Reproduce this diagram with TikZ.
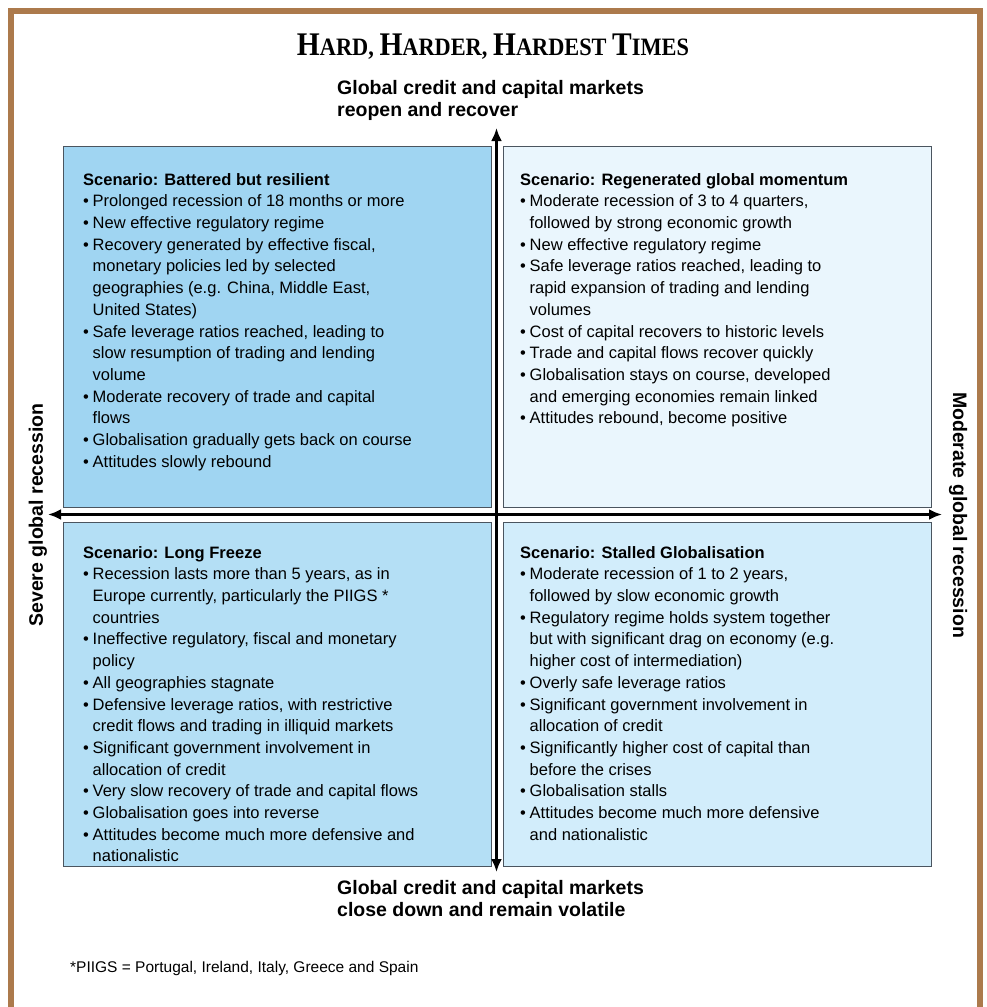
\documentclass[tikz,border=0pt]{standalone}
\usepackage{fontspec}
\usepackage{graphicx}
\setmainfont{Liberation Sans}
\newfontfamily\titlefont{Liberation Serif}
\usetikzlibrary{arrows.meta}
\definecolor{framec}{RGB}{172,122,76}
\definecolor{cTL}{RGB}{160,213,242}
\definecolor{cTR}{RGB}{234,246,253}
\definecolor{cBL}{RGB}{180,223,245}
\definecolor{cBR}{RGB}{210,237,251}
\definecolor{edgec}{RGB}{75,85,95}
\newcommand{\bl}{\makebox[9.5pt][l]{•}}
\newcommand{\ind}{\hspace*{9.5pt}}
\newcommand{\Tb}[1]{{\fontsize{33}{33}\selectfont #1}}
\tikzset{
  quad/.style={draw=edgec, line width=1.3pt, anchor=north west, inner sep=0pt},
  txt/.style={anchor=north west, inner sep=0pt, align=left, font=\fontsize{16.5}{21.7}\selectfont},
  lab/.style={inner sep=0pt, align=left, font=\bfseries\fontsize{19.5}{22}\selectfont},
  axis/.style={line width=3.2pt, {Latex[length=13pt,width=11pt]}-{Latex[length=13pt,width=11pt]}}
}
\begin{document}
\begin{tikzpicture}[x=1pt,y=-1pt]
\useasboundingbox (0,0) rectangle (987,1007);
\fill[white] (0,0) rectangle (987,1007);
\draw[framec, line width=6pt] (11,1012) -- (11,11) -- (980,11) -- (980,1012);

\node (title) at (493,47) {\resizebox{392pt}{\height}{\titlefont\bfseries\fontsize{25}{25}\selectfont\Tb{H}ARD, \Tb{H}ARDER, \Tb{H}ARDEST \Tb{T}IMES}};

\node[lab, anchor=north west] (toplab) at (337,80) {Global credit and capital markets\\reopen and recover};
\node[lab, anchor=north west] (botlab) at (337,880) {Global credit and capital markets\\close down and remain volatile};
\node[lab, rotate=90] (leftlab) at (38,515) {Severe global recession};
\node[lab, rotate=-90] (rightlab) at (958,515) {Moderate global recession};

\node[quad, fill=cTL, minimum width=428pt, minimum height=361pt] (tl) at (63,146) {};
\node[quad, fill=cTR, minimum width=428pt, minimum height=361pt] (tr) at (503,146) {};
\node[quad, fill=cBL, minimum width=428pt, minimum height=344pt] (bl) at (63,522) {};
\node[quad, fill=cBR, minimum width=428pt, minimum height=344pt] (br) at (503,522) {};

\node[txt] (tltext) at (83,173) {\textbf{Scenario: Battered but resilient}\\
\bl Prolonged recession of 18 months or more\\
\bl New effective regulatory regime\\
\bl Recovery generated by effective fiscal,\\
\ind monetary policies led by selected\\
\ind geographies (e.g. China, Middle East,\\
\ind United States)\\
\bl Safe leverage ratios reached, leading to\\
\ind slow resumption of trading and lending\\
\ind volume\\
\bl Moderate recovery of trade and capital\\
\ind flows\\
\bl Globalisation gradually gets back on course\\
\bl Attitudes slowly rebound};

\node[txt] (trtext) at (520,173) {\textbf{Scenario: Regenerated global momentum}\\
\bl Moderate recession of 3 to 4 quarters,\\
\ind followed by strong economic growth\\
\bl New effective regulatory regime\\
\bl Safe leverage ratios reached, leading to\\
\ind rapid expansion of trading and lending\\
\ind volumes\\
\bl Cost of capital recovers to historic levels\\
\bl Trade and capital flows recover quickly\\
\bl Globalisation stays on course, developed\\
\ind and emerging economies remain linked\\
\bl Attitudes rebound, become positive};

\node[txt] (bltext) at (83,546) {\textbf{Scenario: Long Freeze}\\
\bl Recession lasts more than 5 years, as in\\
\ind Europe currently, particularly the PIIGS *\\
\ind countries\\
\bl Ineffective regulatory, fiscal and monetary\\
\ind policy\\
\bl All geographies stagnate\\
\bl Defensive leverage ratios, with restrictive\\
\ind credit flows and trading in illiquid markets\\
\bl Significant government involvement in\\
\ind allocation of credit\\
\bl Very slow recovery of trade and capital flows\\
\bl Globalisation goes into reverse\\
\bl Attitudes become much more defensive and\\
\ind nationalistic};

\node[txt] (brtext) at (520,546) {\textbf{Scenario: Stalled Globalisation}\\
\bl Moderate recession of 1 to 2 years,\\
\ind followed by slow economic growth\\
\bl Regulatory regime holds system together\\
\ind but with significant drag on economy (e.g.\\
\ind higher cost of intermediation)\\
\bl Overly safe leverage ratios\\
\bl Significant government involvement in\\
\ind allocation of credit\\
\bl Significantly higher cost of capital than\\
\ind before the crises\\
\bl Globalisation stalls\\
\bl Attitudes become much more defensive\\
\ind and nationalistic};

\coordinate (vt) at (496.5,128);
\coordinate (vb) at (496.5,872);
\coordinate (hl) at (48,514.5);
\coordinate (hr) at (942,514.5);
\draw[axis] (vt) -- (vb);
\draw[axis] (hl) -- (hr);

\node[anchor=west, inner sep=0pt, font=\fontsize{15.5}{18}\selectfont] (foot) at (70,968) {*PIIGS = Portugal, Ireland, Italy, Greece and Spain};
\end{tikzpicture}
\end{document}
